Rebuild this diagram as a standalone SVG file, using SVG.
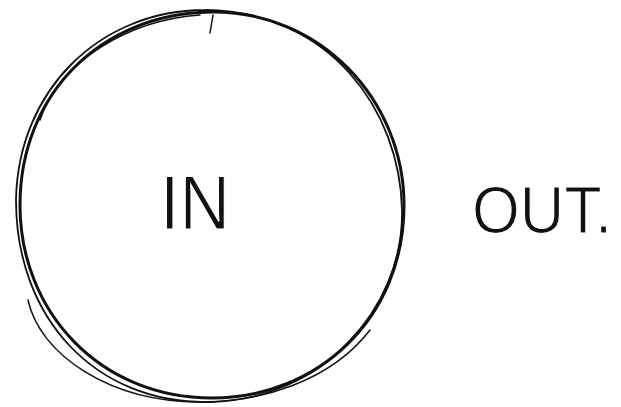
<svg xmlns="http://www.w3.org/2000/svg" width="621" height="407" viewBox="0 0 621 407">
<style>
.sk{fill:none;stroke:#111;stroke-linecap:round}
.hw{font-family:"Liberation Sans","DejaVu Sans",sans-serif;fill:#111;stroke:#fff;stroke-width:1.2}
</style>
<rect width="621" height="407" fill="#fff"/>
<g id="circle">
<path class="sk" stroke-width="3" d="M210,12 C320,10 404,100 404,205 C404,318 318,398 212,398 C100,398 20,312 20,205 C20,95 100,14 210,12 Z"/>
<path class="sk" stroke-width="1.8" d="M205,10 C330,12 400,110 402,210 C404,310 320,400 210,402 C95,404 16,318 16,200 C18,90 100,10 205,10"/>
<path class="sk" stroke-width="1.5" d="M40,120 C60,60 130,20 200,15 M28,300 C40,355 110,402 200,402 C260,402 330,382 370,330"/>
<path class="sk" stroke-width="1.5" d="M213,15 L210,33"/>
</g>
<g id="in">
<text class="hw" x="160" y="229" font-size="76" textLength="70" lengthAdjust="spacingAndGlyphs">IN</text>
</g>
<g id="out">
<text class="hw" x="472" y="233" font-size="66" textLength="140" lengthAdjust="spacingAndGlyphs">OUT.</text>
</g>
</svg>
